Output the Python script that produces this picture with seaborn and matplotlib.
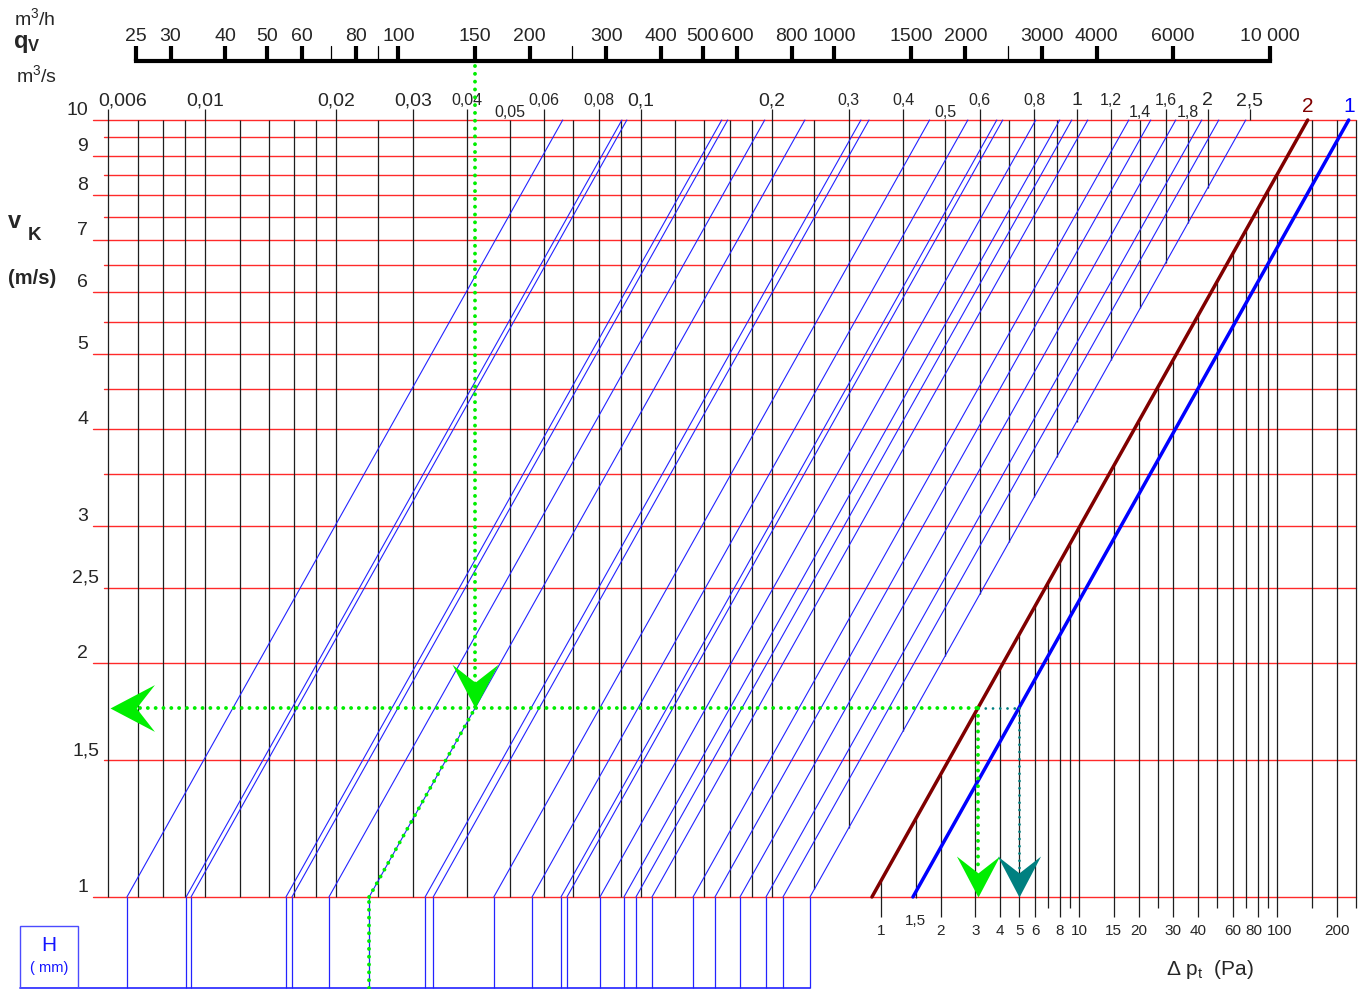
import matplotlib

matplotlib.use("Agg")
import matplotlib.pyplot as plt
import numpy as np
import pandas as pd
import seaborn as sns
from matplotlib.markers import MarkerStyle
from matplotlib.patches import Rectangle
from matplotlib.path import Path
from matplotlib.transforms import Affine2D

W_PX, H_PX = 1366, 989

# top scale: volume flow in m3/h
FLOW_M3H_TICKS = [25, 30, 40, 50, 60, 80, 100, 150, 200, 300, 400, 500, 600, 800,
                  1000, 1500, 2000, 3000, 4000, 6000, 10000]
FLOW_M3H_LABELS = ["25", "30", "40", "50", "60", "80", "100", "150", "200", "300", "400",
                   "500", "600", "800", "1000", "1500", "2000", "3000", "4000", "6000", "10 000"]
FLOW_M3H_MINOR = [70, 90, 250, 2500]

# vertical grid: volume flow in m3/s
FLOW_M3S_GRID = [0.006, 0.007, 0.008, 0.009, 0.01, 0.012, 0.014, 0.016, 0.018, 0.02, 0.025,
                 0.03, 0.04, 0.05, 0.06, 0.07, 0.08, 0.09, 0.1, 0.12, 0.14, 0.16, 0.18, 0.2,
                 0.25, 0.3, 0.4, 0.5, 0.6, 0.7, 0.8, 0.9, 1.0, 1.2, 1.4, 1.6, 1.8, 2.0, 2.5]
FLOW_M3S_TICKS = [0.006, 0.01, 0.02, 0.03, 0.04, 0.05, 0.06, 0.08, 0.1, 0.2, 0.3, 0.4, 0.5,
                  0.6, 0.8, 1.0, 1.2, 1.4, 1.6, 1.8, 2.0, 2.5]
FLOW_M3S_LABELS = ["0,006", "0,01", "0,02", "0,03", "0,04", "0,05", "0,06", "0,08", "0,1",
                   "0,2", "0,3", "0,4", "0,5", "0,6", "0,8", "1", "1,2", "1,4", "1,6", "1,8",
                   "2", "2,5"]
FLOW_M3S_BIG = [0.006, 0.01, 0.02, 0.03, 0.1, 0.2, 1.0, 2.0, 2.5]
FLOW_M3S_LOW = [0.05, 0.5, 1.4, 1.8]

# horizontal grid: duct velocity in m/s
VELOCITY_GRID = [1, 1.5, 2, 2.5, 3, 3.5, 4, 4.5, 5, 5.5, 6, 6.5, 7, 7.5, 8, 8.5, 9, 9.5, 10]
VELOCITY_TICKS = [1, 1.5, 2, 2.5, 3, 4, 5, 6, 7, 8, 9, 10]
VELOCITY_LABELS = ["1", "1,5", "2", "2,5", "3", "4", "5", "6", "7", "8", "9", "10"]

# duct cross sections (m2) = flow at 1 m/s, one blue line each
DUCT_AREA_M2 = [0.00662, 0.00905, 0.00929, 0.01534, 0.01583, 0.01925, 0.0238, 0.0320,
                0.0334, 0.0460, 0.0563, 0.0656, 0.0677, 0.0806, 0.0915, 0.0975, 0.1061,
                0.1318, 0.148, 0.1689, 0.1938, 0.212, 0.2445]

# pressure drop scale (Pa)
DP_GRID = [1, 1.5, 2, 3, 4, 5, 6, 7, 8, 9, 10, 15, 20, 25, 30, 40, 50, 60, 70, 80, 90,
           100, 150, 200, 250]
DP_TICKS = [1, 1.5, 2, 3, 4, 5, 6, 8, 10, 15, 20, 30, 40, 60, 80, 100, 200]
DP_LABELS = ["1", "1,5", "2", "3", "4", "5", "6", "8", "10", "15", "20", "30", "40", "60",
             "80", "100", "200"]

PRESSURE_LINES = ["2", "1"]
PRESSURE_AT_1MS = [0.9, 1.45]
PRESSURE_COLORS = ["#800000", "#0000ff"]

EXAMPLE_FLOW_M3H = 150
EXAMPLE_DUCT = 6

# scales of the nomogram (log-log)
Q_LIM = (0.003385, 4.615)
V_LIM = (0.7613, 14.27)
DP_REF_FLOW = 0.3558
DP_SCALE_EXP = 0.4543
PRESSURE_EXP = 1 / DP_SCALE_EXP

RED = "#ff2a2a"
GRID_BLACK = "#1e1e1e"
DUCT_BLUE = "#2323ff"
GREEN = "#00ee00"
TEAL = "#008080"


def fx(px):
    return px / W_PX


def fy(px):
    return 1 - px / H_PX


def log_frac(val, lim):
    lo, hi = np.log10(lim)
    return (np.log10(val) - lo) / (hi - lo)


def from_frac(f, lim):
    lo, hi = np.log10(lim)
    return 10 ** (lo + f * (hi - lo))


def dp_to_flow(dp):
    return DP_REF_FLOW * np.asarray(dp, dtype=float) ** DP_SCALE_EXP


def line_flow(p1, v):
    return dp_to_flow(p1 * np.asarray(v, dtype=float) ** PRESSURE_EXP)


CHEVRON = Path([(0, 0), (0.5, 0.95), (0, 0.56), (-0.5, 0.95), (0, 0)],
               [Path.MOVETO, Path.LINETO, Path.LINETO, Path.LINETO, Path.CLOSEPOLY])


def chevron(rotation=0):
    return MarkerStyle(CHEVRON, transform=Affine2D().rotate_deg(rotation))


def dotted(ax, xs, ys, color, lw=2.8, gap=2.0, **kw):
    ax.plot(xs, ys, color=color, lw=lw, linestyle=(0, (0.01, gap)),
            dash_capstyle="round", zorder=4, **kw)


def main() -> None:
    sns.set_theme(style="white")
    plt.rcParams["font.family"] = ["Liberation Sans", "DejaVu Sans"]
    plt.rcParams["mathtext.fontset"] = "custom"
    plt.rcParams["mathtext.rm"] = "Liberation Sans"
    plt.rcParams["mathtext.bf"] = "Liberation Sans:bold"
    plt.rcParams["mathtext.it"] = "Liberation Sans:italic"

    fig = plt.figure(figsize=(W_PX / 100, H_PX / 100), dpi=100, facecolor="white")
    ax = fig.add_axes([0, 0, 1, 1])
    ax.set_xscale("log")
    ax.set_yscale("log")
    ax.set_xlim(*Q_LIM)
    ax.set_ylim(*V_LIM)
    ax.set_axis_off()

    xax = ax.get_xaxis_transform()
    yax = ax.get_yaxis_transform()
    right_end = log_frac(float(dp_to_flow(DP_GRID[-1])), Q_LIM)
    v_bottom = from_frac(fy(988), V_LIM)

    # red velocity lines + labels
    for v in VELOCITY_GRID:
        start_px = 93 if float(v).is_integer() else 104
        ax.axhline(v, xmin=fx(start_px), xmax=right_end, color=RED, lw=1.0, zorder=1)
    for v, lbl in zip(VELOCITY_TICKS, VELOCITY_LABELS):
        start_px = 93 if float(v).is_integer() else 104
        ax.annotate(lbl, (fx(start_px - 5), v), xycoords=yax, xytext=(0, 3.5),
                    textcoords="offset points", ha="right", va="baseline", fontsize=14)

    # black flow lines (m3/s), cut at the largest duct line
    a_max = DUCT_AREA_M2[-1]
    tick_top = from_frac(fy(109), V_LIM)
    for q in FLOW_M3S_GRID:
        bottom = min(max(1.0, q / a_max), 10.0)
        top = tick_top if (q in FLOW_M3S_TICKS and q not in FLOW_M3S_LOW) else 10.0
        ax.vlines(q, bottom, top, color=GRID_BLACK, lw=0.9, zorder=1.5)
    for q, lbl in zip(FLOW_M3S_TICKS, FLOW_M3S_LABELS):
        size = 14 if q in FLOW_M3S_BIG else 11.5
        base = fy(117) if q in FLOW_M3S_LOW else fy(105)
        shift = 10 if q == FLOW_M3S_TICKS[0] else 0
        ax.annotate(lbl, (q, base), xycoords=xax, xytext=(shift, 0),
                    textcoords="offset points", ha="center", va="baseline", fontsize=size)

    # blue duct lines, v proportional to q
    duct_df = pd.DataFrame([{"duct": i, "flow": a * v, "velocity": v}
                            for i, a in enumerate(DUCT_AREA_M2) for v in (1.0, 10.0)])
    sns.lineplot(data=duct_df, x="flow", y="velocity", units="duct", estimator=None,
                 color=DUCT_BLUE, lw=0.8, sort=False, ax=ax, zorder=2)
    ax.vlines(DUCT_AREA_M2, v_bottom, 1.0, color=DUCT_BLUE, lw=0.9, zorder=2)
    ax.plot([from_frac(fx(20), Q_LIM), a_max], [v_bottom, v_bottom], color=DUCT_BLUE,
            lw=1.2, zorder=2)
    ax.add_patch(Rectangle((fx(20), fy(988)), fx(58), (988 - 926) / H_PX, transform=ax.transAxes,
                           fill=False, edgecolor="#4b4bff", lw=1.0, zorder=2))
    ax.text(fx(49), fy(951), "H", transform=ax.transAxes, ha="center", va="baseline",
            fontsize=15, color="#1414ff")
    ax.text(fx(49), fy(972), "( mm)", transform=ax.transAxes, ha="center", va="baseline",
            fontsize=10.5, color="#1414ff")

    # pressure drop scale
    p2 = PRESSURE_AT_1MS[0]
    for dp in DP_GRID:
        top = min(10.0, (dp / p2) ** (1 / PRESSURE_EXP))
        if dp == 1.5:
            bottom_px = 898
        elif dp in DP_TICKS:
            bottom_px = 917
        else:
            bottom_px = 908
        ax.vlines(float(dp_to_flow(dp)), from_frac(fy(bottom_px), V_LIM), top,
                  color=GRID_BLACK, lw=0.9, zorder=1.5)
    nudge = {80: -2.5, 100: 2.0}
    for dp, lbl in zip(DP_TICKS, DP_LABELS):
        base = fy(925) if dp == 1.5 else fy(935)
        ax.annotate(lbl, (float(dp_to_flow(dp)), base), xycoords=xax,
                    xytext=(nudge.get(dp, 0), 0), textcoords="offset points",
                    ha="center", va="baseline", fontsize=11)
    ax.text(fx(1210), fy(975), r"Δ p$_{\mathregular{t}}$  (Pa)", transform=ax.transAxes,
            ha="center", va="baseline", fontsize=15)

    # pressure lines 1 and 2
    pres_df = pd.DataFrame([{"line": n, "flow": float(line_flow(p, v)), "velocity": v}
                            for n, p in zip(PRESSURE_LINES, PRESSURE_AT_1MS)
                            for v in (1.0, 10.0)])
    sns.lineplot(data=pres_df, x="flow", y="velocity", hue="line", estimator=None,
                 palette=dict(zip(PRESSURE_LINES, PRESSURE_COLORS)), lw=2.5, legend=False,
                 sort=False, ax=ax, zorder=3)
    for n, p, c in zip(PRESSURE_LINES, PRESSURE_AT_1MS, PRESSURE_COLORS):
        ax.text(float(line_flow(p, 10.0)), fy(112), n, transform=xax, ha="center",
                va="baseline", fontsize=15, color=c)

    # top m3/h scale
    q_h = np.array(FLOW_M3H_TICKS) / 3600
    ax.plot([q_h[0], q_h[-1]], [fy(61), fy(61)], transform=xax, color="black", lw=3,
            solid_capstyle="projecting", zorder=3)
    for q in q_h:
        ax.plot([q, q], [fy(61), fy(46)], transform=xax, color="black", lw=3,
                solid_capstyle="butt", zorder=3)
    for q in np.array(FLOW_M3H_MINOR) / 3600:
        ax.plot([q, q], [fy(61), fy(46)], transform=xax, color="black", lw=0.9, zorder=3)
    for q, lbl in zip(q_h, FLOW_M3H_LABELS):
        ax.text(q, fy(41), lbl, transform=xax, ha="center", va="baseline", fontsize=14)

    # axis titles
    ax.text(fx(14), fy(25), r"m$^{3}$/h", transform=ax.transAxes, fontsize=14, va="baseline")
    ax.text(fx(13), fy(48), r"$\mathbf{q_V}$", transform=ax.transAxes, fontsize=17,
            va="baseline")
    ax.text(fx(16), fy(82), r"m$^{3}$/s", transform=ax.transAxes, fontsize=14, va="baseline")
    ax.text(fx(8), fy(228), "v", transform=ax.transAxes, fontsize=17, fontweight="bold",
            va="baseline")
    ax.text(fx(28), fy(240), "K", transform=ax.transAxes, fontsize=13.5, fontweight="bold",
            va="baseline")
    ax.text(fx(8), fy(284), "(m/s)", transform=ax.transAxes, fontsize=14.5, fontweight="bold",
            va="baseline")

    # worked example: 150 m3/h through duct -> velocity -> pressure drop
    q_ex = EXAMPLE_FLOW_M3H / 3600
    a_ex = DUCT_AREA_M2[EXAMPLE_DUCT]
    v_ex = q_ex / a_ex
    q_l2 = float(line_flow(PRESSURE_AT_1MS[0], v_ex))
    q_l1 = float(line_flow(PRESSURE_AT_1MS[1], v_ex))

    dotted(ax, [q_ex, q_ex], [from_frac(fy(66), V_LIM), v_ex], GREEN)
    dotted(ax, [from_frac(fx(140), Q_LIM), q_l2], [v_ex, v_ex], GREEN)
    dotted(ax, [q_l2, q_l1], [v_ex, v_ex], TEAL, lw=2.0, gap=2.6)
    dotted(ax, [a_ex, q_ex], [1.0, v_ex], GREEN)
    dotted(ax, [a_ex, a_ex], [v_bottom, 1.0], GREEN)
    dotted(ax, [q_l2, q_l2], [v_ex, 1.08], GREEN)
    dotted(ax, [q_l1, q_l1], [v_ex, 1.08], TEAL, lw=2.0, gap=2.6)

    ax.plot([q_ex], [v_ex], marker=chevron(), ms=63, color=GREEN, mew=0, zorder=5)
    ax.plot([q_l2], [1.0], marker=chevron(), ms=59, color=GREEN, mew=0, zorder=5)
    ax.plot([q_l1], [1.0], marker=chevron(), ms=59, color=TEAL, mew=0, zorder=5)
    ax.plot([fx(110)], [v_ex], transform=yax, marker=chevron(-90), ms=64, color=GREEN,
            mew=0, zorder=5)

    fig.savefig("out.png", dpi=100, facecolor="white")
    plt.close(fig)


if __name__ == "__main__":
    main()
